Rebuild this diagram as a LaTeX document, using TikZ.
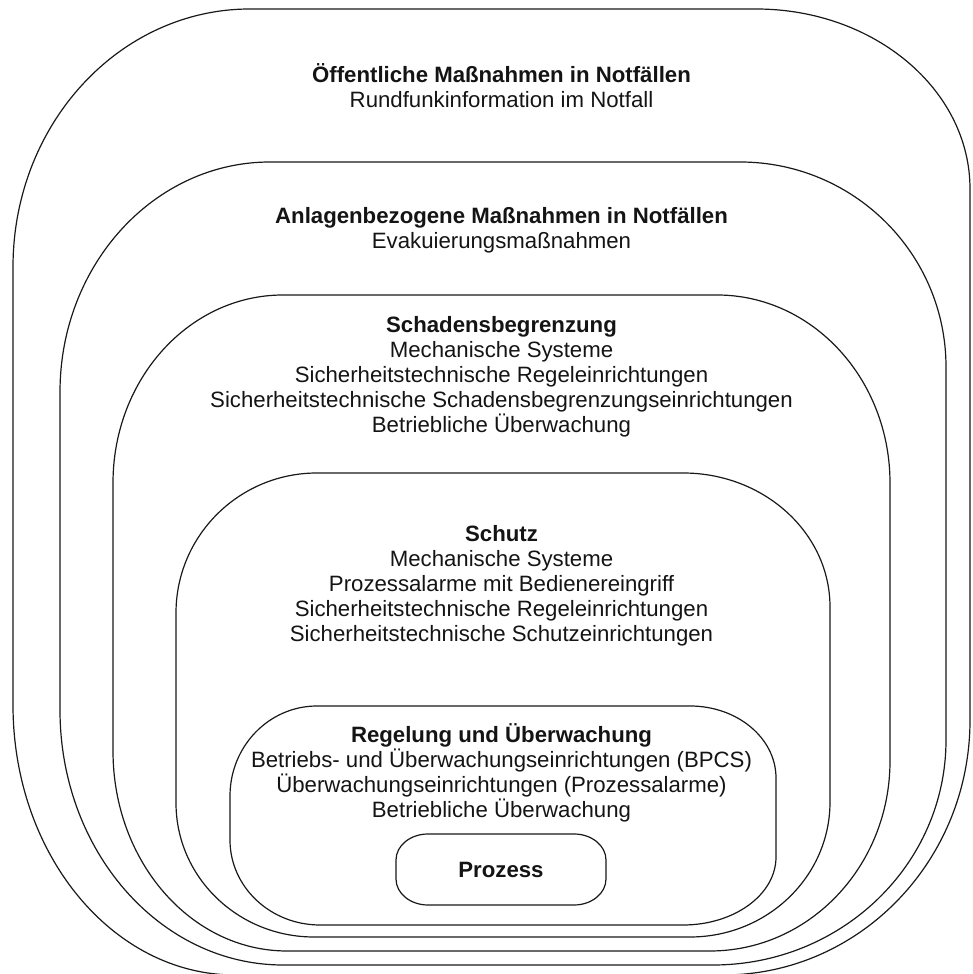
\documentclass[tikz,border=0pt]{standalone}
\usepackage{fontspec}
\setmainfont{Liberation Sans}
\begin{document}
\begin{tikzpicture}[x=1pt,y=1pt,
  layer/.style={draw=black!90,line width=1.2pt,line join=round},
  lbl/.style={align=center,inner sep=0pt,text=black!92,
    font=\fontsize{22.2}{25}\selectfont}]
\useasboundingbox (0,0) rectangle (973,974);

% Outermost layer
\draw[layer] (250,965) -- (756,965)
  arc[start angle=90,end angle=0,x radius=214,y radius=180] -- (970,254)
  arc[start angle=0,end angle=-90,x radius=247,y radius=255] -- (235,-1)
  arc[start angle=270,end angle=180,x radius=222,y radius=270] -- (13,707)
  arc[start angle=180,end angle=90,x radius=237,y radius=258] -- cycle;

% Plant emergency response layer
\draw[layer] (270,812) -- (740,812)
  arc[start angle=90,end angle=0,x radius=206,y radius=205] -- (946,234)
  arc[start angle=0,end angle=-90,x radius=233,y radius=225] -- (283,9)
  arc[start angle=270,end angle=180,x radius=223,y radius=255] -- (60,582)
  arc[start angle=180,end angle=90,x radius=210,y radius=230] -- cycle;

% Mitigation layer
\draw[layer] (283,679) -- (717,679)
  arc[start angle=90,end angle=0,x radius=173,y radius=188] -- (890,213)
  arc[start angle=0,end angle=-90,x radius=180,y radius=190] -- (287,23)
  arc[start angle=270,end angle=180,x radius=174,y radius=200] -- (113,491)
  arc[start angle=180,end angle=90,x radius=170,y radius=188] -- cycle;

% Protection layer
\draw[layer] (317,501) -- (683,501)
  arc[start angle=90,end angle=0,x radius=147,y radius=134] -- (830,172)
  arc[start angle=0,end angle=-90,x radius=140,y radius=135] -- (314,37)
  arc[start angle=270,end angle=180,x radius=138,y radius=134] -- (176,361)
  arc[start angle=180,end angle=90,x radius=141,y radius=140] -- cycle;

% Control and monitoring layer
\draw[layer] (317,268) -- (690,268)
  arc[start angle=90,end angle=0,x radius=86,y radius=72] -- (776,117)
  arc[start angle=0,end angle=-90,x radius=93,y radius=68] -- (320,49)
  arc[start angle=270,end angle=180,x radius=90,y radius=85] -- (230,178)
  arc[start angle=180,end angle=90,x radius=87,y radius=90] -- cycle;

% Process core
\draw[layer] (428,140) -- (574,140)
  arc[start angle=90,end angle=0,x radius=32,y radius=26] -- (606,95)
  arc[start angle=0,end angle=-90,x radius=32,y radius=26] -- (428,69)
  arc[start angle=270,end angle=180,x radius=32,y radius=26] -- (396,114)
  arc[start angle=180,end angle=90,x radius=32,y radius=26] -- cycle;

% Layer labels
\node[lbl] (public) at (501.5,888) {\textbf{Öffentliche Maßnahmen in Notfällen}\\
  Rundfunkinformation im Notfall};
\node[lbl] (plant) at (501.5,743.5) {\textbf{Anlagenbezogene Maßnahmen in Notfällen}\\
  Evakuierungsmaßnahmen};
\node[lbl] (mitig) at (501.5,597) {\textbf{Schadensbegrenzung}\\
  Mechanische Systeme\\
  Sicherheitstechnische Regeleinrichtungen\\
  Sicherheitstechnische Schadensbegrenzungseinrichtungen\\
  Betriebliche Überwachung};
\node[lbl] (protect) at (501.5,388.5) {\textbf{Schutz}\\
  Mechanische Systeme\\
  Prozessalarme mit Bedienereingriff\\
  Sicherheitstechnische Regeleinrichtungen\\
  Sicherheitstechnische Schutzeinrichtungen};
\node[lbl] (control) at (501.5,201.5) {\textbf{Regelung und Überwachung}\\
  Betriebs- und Überwachungseinrichtungen (BPCS)\\
  Überwachungseinrichtungen (Prozessalarme)\\
  Betriebliche Überwachung};
\node[lbl] (process) at (501,104) {\textbf{Prozess}};
\end{tikzpicture}
\end{document}
